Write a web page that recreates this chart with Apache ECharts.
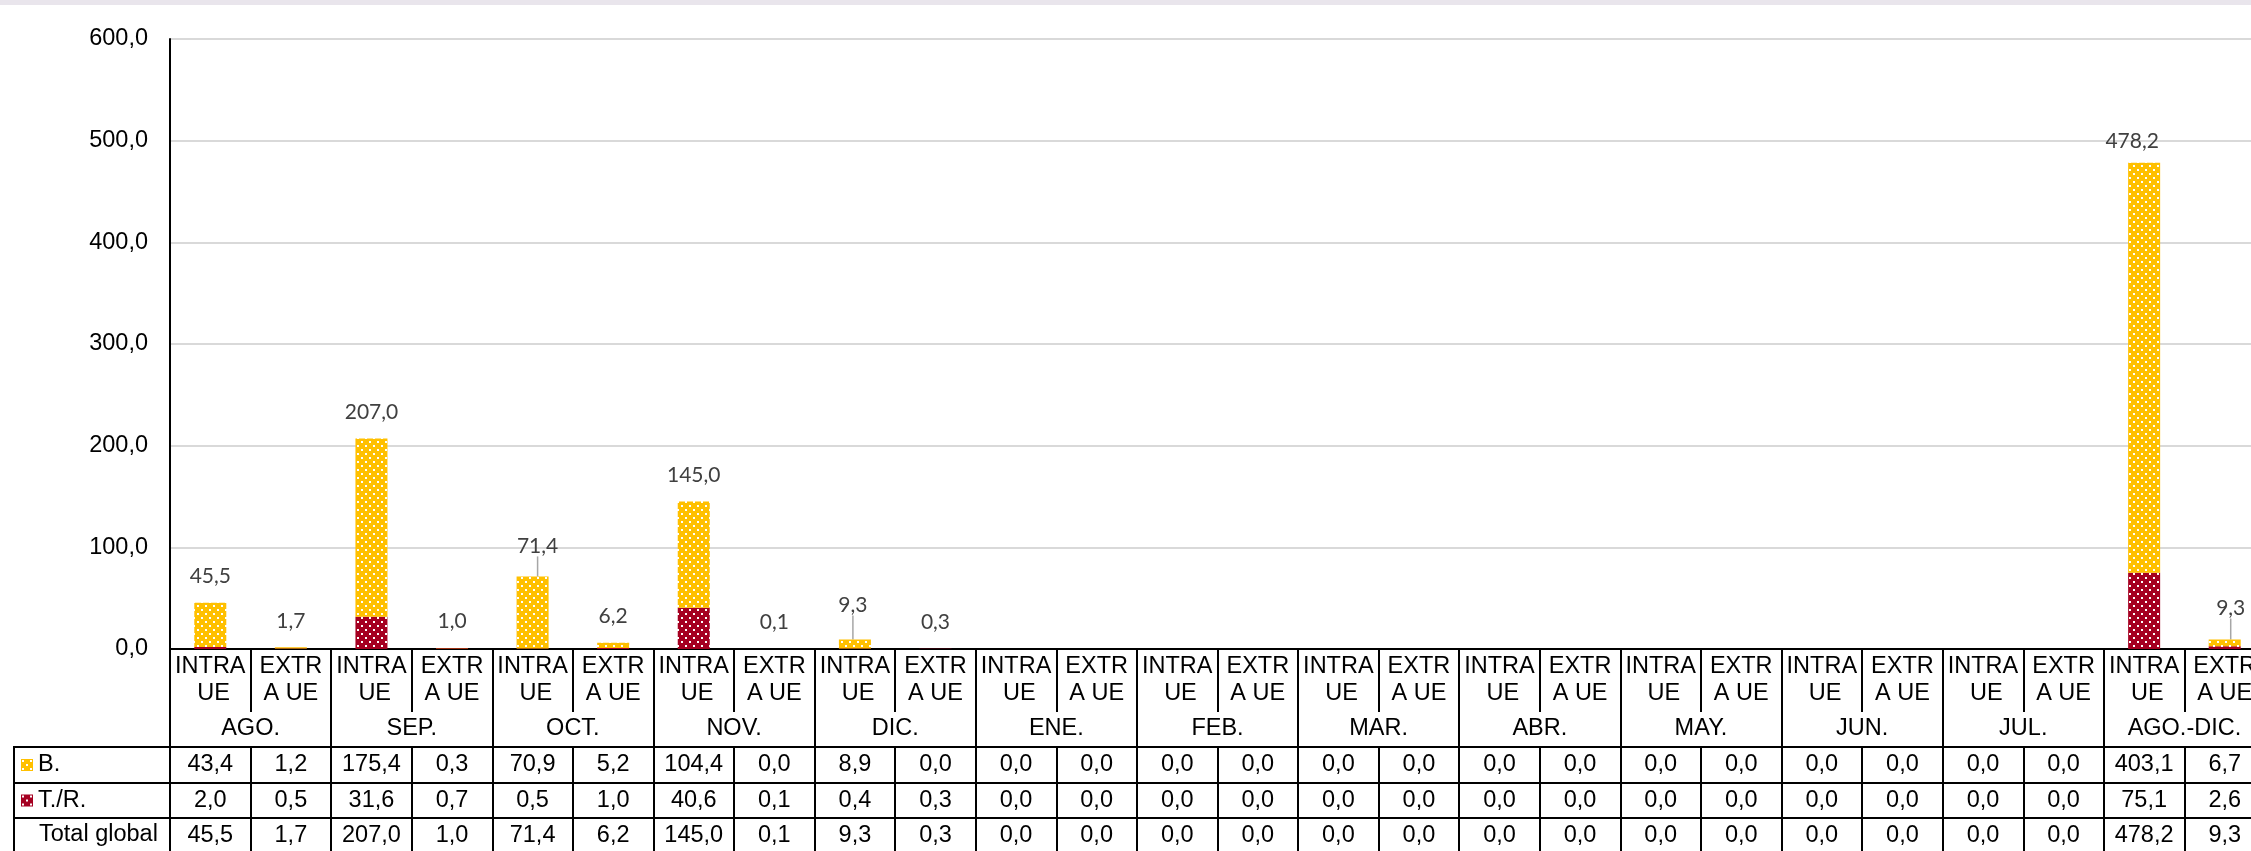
<!DOCTYPE html>
<html>
<head>
<meta charset="utf-8">
<script src="https://cdn.jsdelivr.net/npm/echarts@6/dist/echarts.min.js"></script>
<style>
  html, body { margin: 0; padding: 0; background: #ffffff; }
  #chart { width: 2251px; height: 851px; }
  #strip { position: absolute; left: 0; top: 0; width: 2251px; height: 5px; background: #e9e5ec; z-index: 10; }
</style>
</head>
<body>
<div id="strip"></div>
<div id="chart"></div>
<script>
// ---- data ----
const months = ['AGO.', 'SEP.', 'OCT.', 'NOV.', 'DIC.', 'ENE.', 'FEB.', 'MAR.', 'ABR.', 'MAY.', 'JUN.', 'JUL.', 'AGO.-DIC.'];
const subLabels = ['INTRA UE', 'EXTRA UE'];
const seriesNames = ['B.', 'T./R.'];
const bValues = [43.4, 1.2, 175.4, 0.3, 70.9, 5.2, 104.4, 0.0, 8.9, 0.0,
                 0.0, 0.0, 0.0, 0.0, 0.0, 0.0, 0.0, 0.0, 0.0, 0.0, 0.0, 0.0, 0.0, 0.0,
                 403.1, 6.7];
const trValues = [2.0, 0.5, 31.6, 0.7, 0.5, 1.0, 40.6, 0.1, 0.4, 0.3,
                  0.0, 0.0, 0.0, 0.0, 0.0, 0.0, 0.0, 0.0, 0.0, 0.0, 0.0, 0.0, 0.0, 0.0,
                  75.1, 2.6];
const totalValues = [45.5, 1.7, 207.0, 1.0, 71.4, 6.2, 145.0, 0.1, 9.3, 0.3,
                     0.0, 0.0, 0.0, 0.0, 0.0, 0.0, 0.0, 0.0, 0.0, 0.0, 0.0, 0.0, 0.0, 0.0,
                     478.2, 9.3];
const yTicks = { min: 0, max: 600, interval: 100 };
const totalRowLabel = 'Total global';

// ---- helpers ----
const categories = [];
months.forEach(() => subLabels.forEach(s => categories.push(s)));
const fmt = v => Number(v).toFixed(1).replace('.', ',');
const FONT = 'Liberation Sans';
const FS = 23.5;

function pattern(color) {
  const c = document.createElement('canvas');
  c.width = 8; c.height = 8;
  const g = c.getContext('2d');
  g.fillStyle = color; g.fillRect(0, 0, 8, 8);
  g.fillStyle = '#ffffff';
  g.fillRect(1, 1, 2, 2);
  g.fillRect(5, 5, 2, 2);
  return { image: c, repeat: 'repeat' };
}

const leaderIdx = [4, 8, 25];
const labelShift = { 4: { dx: 5, dy: -4 }, 8: { dx: -2, dy: -8 }, 24: { dx: -12, dy: 5 }, 25: { dx: 6, dy: -5 } };

const bData = bValues.map((v, i) => leaderIdx.includes(i)
  ? { value: v, labelLine: { show: true, lineStyle: { color: '#a6a6a6', width: 1.5 } } }
  : v);

const lineStyle = { color: '#000', width: 2 };

function rowAxis(values, offset, len) {
  return {
    type: 'category', data: categories, gridIndex: 0, position: 'bottom', offset: offset,
    axisLine: { show: true, lineStyle: lineStyle },
    axisTick: { show: true, interval: 0, length: len, lineStyle: lineStyle },
    axisLabel: {
      interval: 0, margin: 18, verticalAlign: 'middle',
      fontFamily: FONT, fontSize: FS, color: '#000',
      formatter: (val, idx) => fmt(values[idx])
    },
    splitLine: { show: false }
  };
}

const chart = echarts.init(document.getElementById('chart'), null, { renderer: 'canvas' });
chart.setOption({
  animation: false,
  backgroundColor: '#ffffff',
  grid: { left: 170, top: 39, width: 2095, height: 610, containLabel: false, outerBoundsMode: 'none' },
  legend: {
    data: seriesNames, orient: 'vertical', left: 21, top: 753, padding: 0,
    itemWidth: 12, itemHeight: 12, itemGap: 11.5, icon: 'rect', selectedMode: false,
    textStyle: { fontFamily: FONT, fontSize: FS, color: '#000', lineHeight: 24 }
  },
  title: {
    text: totalRowLabel, left: 39, top: 823, padding: 0,
    textStyle: { fontFamily: FONT, fontSize: FS, fontWeight: 'normal', color: '#000' }
  },
  xAxis: [
    {
      type: 'category', data: categories, position: 'bottom',
      axisLine: { show: true, lineStyle: lineStyle },
      axisTick: { show: true, interval: 0, length: 63, lineStyle: lineStyle },
      axisLabel: {
        interval: 0, margin: 31, verticalAlign: 'middle', align: 'center',
        fontFamily: FONT, fontSize: FS, color: '#000', lineHeight: 27,
        width: 74, overflow: 'breakAll'
      }
    },
    {
      type: 'category', data: months, position: 'bottom', offset: 0,
      axisLine: { show: false },
      axisTick: { show: true, interval: 0, length: 98, lineStyle: lineStyle },
      axisLabel: {
        interval: 0, margin: 80, verticalAlign: 'middle',
        fontFamily: FONT, fontSize: FS, color: '#000'
      }
    },
    rowAxis(bValues, 98, 36),
    rowAxis(trValues, 134, 35),
    rowAxis(totalValues, 169, 40)
  ],
  yAxis: {
    type: 'value', min: yTicks.min, max: yTicks.max, interval: yTicks.interval,
    axisLine: { show: true, lineStyle: lineStyle },
    axisTick: { show: false },
    splitLine: { show: true, lineStyle: { color: '#d9d9d9', width: 2 } },
    axisLabel: { margin: 22, fontFamily: FONT, fontSize: FS, color: '#000', formatter: v => fmt(v) }
  },
  graphic: [
    { type: 'line', shape: { x1: 14, y1: 747, x2: 170, y2: 747 }, style: { stroke: '#000', lineWidth: 2 } },
    { type: 'line', shape: { x1: 14, y1: 783, x2: 170, y2: 783 }, style: { stroke: '#000', lineWidth: 2 } },
    { type: 'line', shape: { x1: 14, y1: 818, x2: 170, y2: 818 }, style: { stroke: '#000', lineWidth: 2 } },
    { type: 'line', shape: { x1: 14, y1: 746, x2: 14, y2: 851 }, style: { stroke: '#000', lineWidth: 2 } }
  ],
  series: [
    {
      name: seriesNames[1], type: 'bar', stack: 'total', barWidth: 32,
      itemStyle: { color: pattern('#A50021') },
      data: trValues
    },
    {
      name: seriesNames[0], type: 'bar', stack: 'total', barWidth: 32,
      itemStyle: { color: pattern('#FFC000') },
      data: bData,
      label: {
        show: true, position: 'top', distance: 16,
        fontFamily: 'Lato', fontSize: 21, color: '#404040',
        formatter: p => totalValues[p.dataIndex] > 0 ? fmt(totalValues[p.dataIndex]) : ''
      },
      labelLayout: p => labelShift[p.dataIndex] || {}
    }
  ]
});
</script>
</body>
</html>
